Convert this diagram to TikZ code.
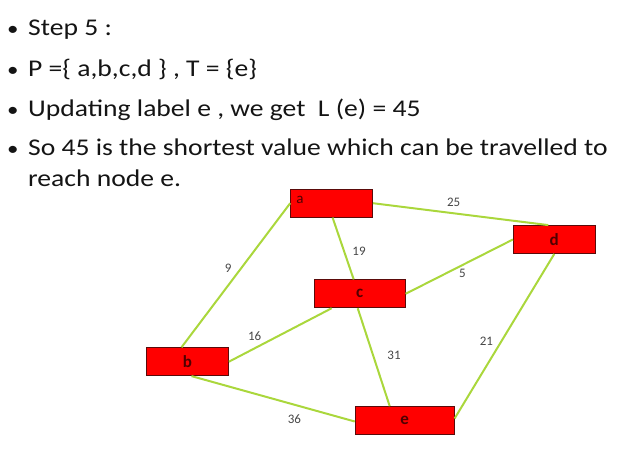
\documentclass[tikz,border=0pt]{standalone}
\usepackage{fontspec}
\setmainfont{Carlito}
\newfontfamily\widefont{Carlito}[FakeStretch=1.15]
\usetikzlibrary{positioning}
\definecolor{edgegreen}{RGB}{170,215,60}
\definecolor{boxred}{RGB}{255,0,0}
\definecolor{boxline}{RGB}{90,10,10}
\definecolor{labred}{RGB}{80,0,0}
\definecolor{wtgray}{RGB}{70,70,70}
\newcommand\bul{\makebox[21pt][l]{\fontsize{20}{20}\selectfont\textbullet}}

\begin{document}
\begin{tikzpicture}
  [x=1pt,y=-1pt,
   vbox/.style={rectangle,fill=boxred,draw=boxline,line width=.8pt,minimum height=28pt,inner sep=0pt,font=\bfseries\fontsize{17}{17}\selectfont,text=labred},
   line/.style={anchor=base west,inner sep=0pt,font=\widefont\fontsize{24}{31}\selectfont,text={black!92}},
   wt/.style={inner sep=1pt,font=\fontsize{13}{13}\selectfont,text=wtgray},
   link/.style={draw=edgegreen,line width=2pt}]
  \useasboundingbox (0,0) rectangle (618,464);

  % bullet text
  \node (nstep) [line] at (7,35)  {\bul Step 5 :};
  \node (nsets) [line] at (7,76)  {\bul P =\{ a,b,c,d \} , T = \{e\}};
  \node (nupd)  [line] at (7,116.5) {\bul Updating label e , we get\ \ L (e) = 45};
  \node (nso)   [line] at (7,155.5) {\bul So 45 is the shortest value which can be travelled to};
  \node (nreach) [line] at (28,186.5) {reach node e.};

  % graph
  \node (na) [vbox,minimum width=82pt] at (331.6,203.2) {};
  \node (nalabel) [inner sep=0pt,font=\fontsize{15}{15}\selectfont,text=labred] at (300,200) {a};
  \node (nb) [vbox,minimum width=82pt] at (187.5,361.7) {b};
  \node (nc) [vbox,minimum width=91pt] at (359.7,293.8) {c};
  \node (nd) [vbox,minimum width=82pt] at (554.3,239.5) {d};
  \node (ne) [vbox,minimum width=99pt] at (404.7,420.5) {e};

  \path[link]
  ([xshift=-6pt]nb.north) edge node [wt,pos=.55,xshift=-13pt] {9} (na.west)
  ([xshift=1pt]na.south) edge node [wt,pos=.54,xshift=15pt] {19} ([xshift=-6pt]nc.north)
  (na.east) edge node [wt,pos=.46,yshift=11pt] {25} ([xshift=-6pt]nd.north)
  (nc.east) edge node [wt,pos=.53,yshift=-8pt] {5} (nd.west)
  (nb.east) edge node [wt,pos=.25,yshift=12pt] {16} ([xshift=-28pt]nc.south)
  ([xshift=-2pt]nc.south) edge node [wt,pos=.48,xshift=21pt] {31} ([xshift=-15pt]ne.north)
  (nd.south) edge node [wt,pos=.53,xshift=-15pt] {21} ([yshift=2pt]ne.east)
  ([xshift=4pt]nb.south) edge node [wt,pos=.63,yshift=-14pt] {36} ([yshift=-1pt]ne.west);
\end{tikzpicture}
\end{document}
